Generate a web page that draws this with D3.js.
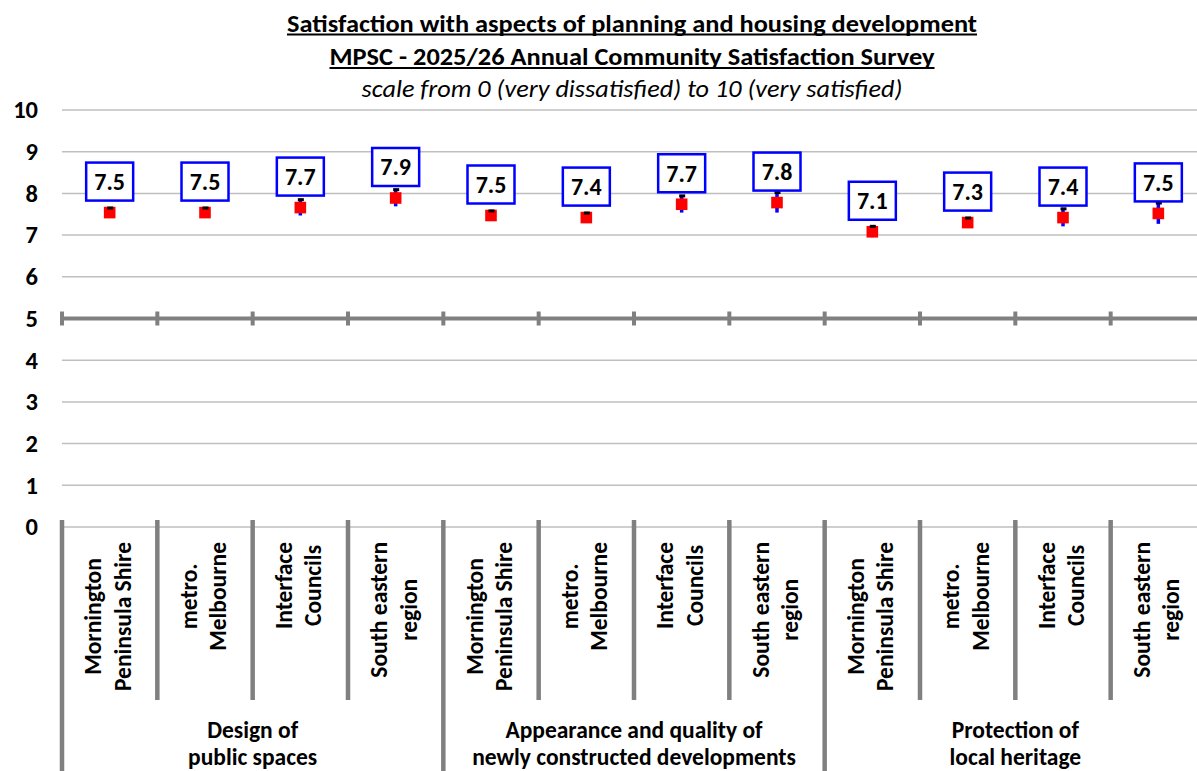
<!DOCTYPE html>
<html>
<head>
<meta charset="utf-8">
<script src="https://cdn.jsdelivr.net/npm/d3@7"></script>
<style>
  html, body { margin: 0; padding: 0; background: #fff; }
  svg { display: block; }
</style>
</head>
<body>
<svg id="chart" width="1197" height="771"></svg>
<script>
// ---------------- data ----------------
const titleLines = [
  "Satisfaction with aspects of planning and housing development",
  "MPSC - 2025/26 Annual Community Satisfaction Survey"
];
const subtitle = "scale from 0 (very dissatisfied) to 10 (very satisfied)";
const groups = [
  ["Design of", "public spaces"],
  ["Appearance and quality of", "newly constructed developments"],
  ["Protection of", "local heritage"]
];
const categories = [
  ["Mornington", "Peninsula Shire"],
  ["metro.", "Melbourne"],
  ["Interface", "Councils"],
  ["South eastern", "region"]
];
const scores = [7.54, 7.54, 7.66, 7.89, 7.47, 7.42, 7.74, 7.78, 7.08, 7.30, 7.42, 7.52];
const margins = [0.11, 0.11, 0.19, 0.2, 0.11, 0.11, 0.2, 0.24, 0.13, 0.11, 0.21, 0.25];
const yTicks = [0, 1, 2, 3, 4, 5, 6, 7, 8, 9, 10];

// ---------------- layout ----------------
const FONT = "Carlito, Calibri, 'Liberation Sans Narrow', 'Open Sans', sans-serif";
const svg = d3.select("#chart");
const plotL = 62, plotR = 1206, plotT = 110, plotB = 527;
const n = groups.length * categories.length;
const rows = d3.range(n).map(i => ({
  i,
  group: Math.floor(i / categories.length),
  cat: categories[i % categories.length],
  value: scores[i],
  err: margins[i]
}));

const x = d3.scaleBand().domain(d3.range(n)).range([plotL, plotR]).padding(0);
const y = d3.scaleLinear().domain([0, 10]).range([plotB, plotT]);
const bw = x.bandwidth();

// title
const tg = svg.append("g").attr("font-family", FONT).attr("fill", "#000");
const titleX = 632;
[[titleLines[0], 31.5, 690], [titleLines[1], 65, 605]].forEach(([t, yy, w]) => {
  tg.append("text").attr("x", titleX).attr("y", yy)
    .attr("text-anchor", "middle").attr("font-size", 23.5).attr("font-weight", "bold")
    .attr("textLength", w).attr("lengthAdjust", "spacingAndGlyphs").text(t);
  tg.append("line").attr("x1", titleX - w / 2).attr("x2", titleX + w / 2)
    .attr("y1", yy + 3).attr("y2", yy + 3).attr("stroke", "#000").attr("stroke-width", 1.8);
});
tg.append("text").attr("x", titleX).attr("y", 96.5).attr("text-anchor", "middle")
  .attr("font-size", 23.5).attr("font-style", "italic")
  .attr("textLength", 541).attr("lengthAdjust", "spacingAndGlyphs").text(subtitle);

// gridlines
const grid = svg.append("g");
grid.selectAll("line").data(yTicks.filter(d => d !== 5)).join("line")
  .attr("x1", plotL).attr("x2", plotR)
  .attr("y1", d => y(d)).attr("y2", d => y(d))
  .attr("stroke", "#bfbfbf").attr("stroke-width", 1.5);

// y axis labels
const yAxis = d3.axisLeft(y).tickValues(yTicks).tickSize(0).tickPadding(0).tickFormat(d3.format("d"));
const ya = svg.append("g").attr("transform", `translate(38,0)`).call(yAxis);
ya.select(".domain").remove();
ya.selectAll("text").attr("font-family", FONT).attr("font-size", 24.5)
  .attr("font-weight", "bold").attr("fill", "#000");

// horizontal axis crossing at 5
const axisY = y(5);
svg.append("line").attr("x1", plotL).attr("x2", plotR).attr("y1", axisY).attr("y2", axisY)
  .attr("stroke", "#808080").attr("stroke-width", 4);
const bounds = d3.range(n + 1).map(i => plotL + i * bw);
svg.append("g").selectAll("line").data(bounds).join("line")
  .attr("x1", d => d).attr("x2", d => d)
  .attr("y1", axisY - 7).attr("y2", axisY + 7)
  .attr("stroke", "#808080").attr("stroke-width", 4);

// category separators under plot
svg.append("g").selectAll("line").data(d3.range(n + 1)).join("line")
  .attr("x1", i => plotL + i * bw).attr("x2", i => plotL + i * bw)
  .attr("y1", 520).attr("y2", i => (i % categories.length === 0) ? 771 : 700)
  .attr("stroke", "#808080").attr("stroke-width", 4.5);

// category labels (rotated)
const catG = svg.append("g").attr("font-family", FONT).attr("font-size", 23.5)
  .attr("font-weight", "bold").attr("fill", "#000");
rows.forEach(r => {
  const cx = x(r.i) + bw / 2;
  const g = catG.append("g").attr("transform", `translate(${cx},542) rotate(-90)`);
  const texts = r.cat.map((t, k) => g.append("text").attr("y", k === 0 ? -8.5 : 21)
    .attr("text-anchor", "middle").text(t));
  const maxLen = d3.max(texts, t => t.node().getComputedTextLength());
  texts.forEach(t => t.attr("x", -maxLen / 2));
});

// group labels
const grpG = svg.append("g").attr("font-family", FONT).attr("font-size", 23.5)
  .attr("font-weight", "bold").attr("fill", "#000").attr("text-anchor", "middle");
groups.forEach((lines, gi) => {
  const gx = plotL + (gi * categories.length + categories.length / 2) * bw;
  lines.forEach((t, k) => grpG.append("text").attr("x", gx).attr("y", 738 + k * 27).text(t));
});

// error bars (blue)
svg.append("g").selectAll("line").data(rows).join("line")
  .attr("x1", d => x(d.i) + bw / 2).attr("x2", d => x(d.i) + bw / 2)
  .attr("y1", d => y(d.value - d.err)).attr("y2", d => y(d.value + d.err))
  .attr("stroke", "#0000ff").attr("stroke-width", 3.5);

// markers
svg.append("g").selectAll("rect").data(rows).join("rect")
  .attr("x", d => x(d.i) + bw / 2 - 5.8).attr("y", d => y(d.value) - 5.8)
  .attr("width", 11.6).attr("height", 11.6).attr("fill", "#ff0000");

// error bar caps
svg.append("g").selectAll("rect").data(rows).join("rect")
  .attr("x", d => x(d.i) + bw / 2 - 2.5).attr("y", d => y(d.value + d.err) - 1.5)
  .attr("width", 6).attr("height", 3).attr("fill", "#000");

// data labels
const lab = svg.append("g");
rows.forEach(d => {
  const cx = x(d.i) + bw / 2;
  const by = y(d.value) - 12;
  lab.append("rect").attr("x", cx - 23.5).attr("y", by - 38).attr("width", 47).attr("height", 38)
    .attr("fill", "#fff").attr("stroke", "#0000ff").attr("stroke-width", 2.5);
  lab.append("text").attr("x", cx).attr("y", by - 10.5).attr("text-anchor", "middle")
    .attr("font-family", FONT).attr("font-size", 24).attr("font-weight", "bold")
    .attr("fill", "#000").text(d3.format(".1f")(d.value));
});
</script>
</body>
</html>
